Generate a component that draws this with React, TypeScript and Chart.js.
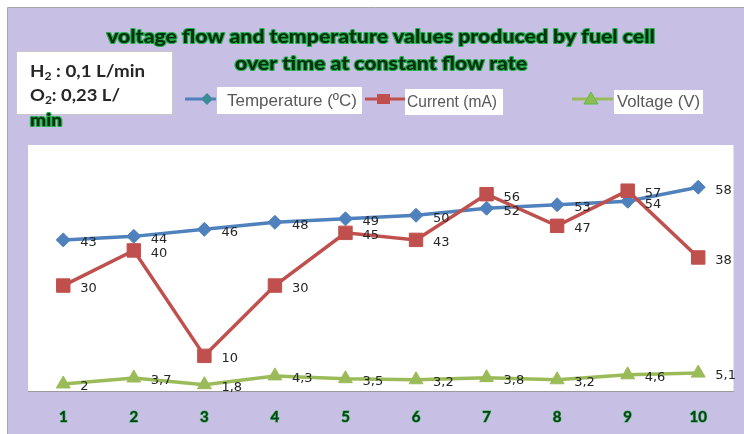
import React, { useEffect, useRef } from "react";
import { Chart, registerables } from "chart.js";

Chart.register(...registerables);

const categories = ["1", "2", "3", "4", "5", "6", "7", "8", "9", "10"];
const temperature = [43, 44, 46, 48, 49, 50, 52, 53, 54, 58];
const current = [30, 40, 10, 30, 45, 43, 56, 47, 57, 38];
const voltage = [2, 3.7, 1.8, 4.3, 3.5, 3.2, 3.8, 3.2, 4.6, 5.1];
const titleLines = [
  "voltage flow and temperature values produced by fuel cell",
  "over time at constant flow rate",
];
const legendLabels = ["Temperature (ºC)", "Current (mA)", "Voltage (V)"];
const boxLines = [
  ["H", "2", " : 0,1 L/min"],
  ["O", "2", ": 0,23 L/"],
];
const boxOverflow = "min";
const yMin = 0;
const yMax = 70;

const BLUE = "#4f81bd";
const RED = "#c0504d";
const GREEN = "#9bbb59";
const PURPLE = "#c7bfe4";

function fitText(
  ctx: CanvasRenderingContext2D,
  text: string,
  x: number,
  y: number,
  font: string,
  color: string,
  width: number,
  align: CanvasTextAlign = "left",
  stroke?: string
) {
  ctx.save();
  ctx.font = font;
  const w = ctx.measureText(text).width;
  const s = width / w;
  ctx.translate(x, y);
  ctx.scale(s, 1);
  ctx.textBaseline = "middle";
  ctx.textAlign = align;
  if (stroke) {
    ctx.strokeStyle = stroke;
    ctx.lineJoin = "round";
    ctx.lineWidth = 2.2;
    ctx.strokeText(text, 0, 0);
  }
  ctx.fillStyle = color;
  ctx.fillText(text, 0, 0);
  ctx.restore();
}

function drawSubLine(
  ctx: CanvasRenderingContext2D,
  parts: string[],
  x: number,
  y: number,
  width: number
) {
  const big = "bold 17px Lato";
  const small = "bold 11px Lato";
  ctx.save();
  ctx.font = big;
  const w0 = ctx.measureText(parts[0]).width;
  const w2 = ctx.measureText(parts[2]).width;
  ctx.font = small;
  const w1 = ctx.measureText(parts[1]).width;
  const s = width / (w0 + w1 + w2);
  ctx.translate(x, y);
  ctx.scale(s, 1);
  ctx.textBaseline = "middle";
  ctx.textAlign = "left";
  ctx.fillStyle = "#262626";
  ctx.font = big;
  ctx.fillText(parts[0], 0, 0);
  ctx.font = small;
  ctx.fillText(parts[1], w0, 4);
  ctx.font = big;
  ctx.fillText(parts[2], w0 + w1, 0);
  ctx.restore();
}

const bgPlugin = {
  id: "bg",
  beforeDraw(chart: any) {
    const ctx = chart.ctx as CanvasRenderingContext2D;
    const { width, height } = chart;
    ctx.save();
    ctx.fillStyle = "#ffffff";
    ctx.fillRect(0, 0, width, height);
    ctx.fillStyle = PURPLE;
    ctx.fillRect(8, 8, width - 8, height - 8);
    ctx.strokeStyle = "#a6a6a6";
    ctx.lineWidth = 1;
    ctx.beginPath();
    ctx.moveTo(7.5, height);
    ctx.lineTo(7.5, 7.5);
    ctx.lineTo(width, 7.5);
    ctx.stroke();
    const a = chart.chartArea;
    ctx.fillStyle = "#ffffff";
    ctx.fillRect(a.left, a.top, a.right - a.left, a.bottom - a.top);
    ctx.restore();
  },
};

const labelPlugin = {
  id: "valueLabels",
  afterDatasetsDraw(chart: any) {
    const ctx = chart.ctx as CanvasRenderingContext2D;
    ctx.save();
    ctx.font = "13px 'DejaVu Sans'";
    ctx.fillStyle = "#262626";
    ctx.textBaseline = "middle";
    ctx.textAlign = "left";
    chart.data.datasets.forEach((ds: any, i: number) => {
      const meta = chart.getDatasetMeta(i);
      meta.data.forEach((pt: any, j: number) => {
        const txt = String(ds.data[j]).replace(".", ",");
        ctx.fillText(txt, pt.x + 17, pt.y + 3);
      });
    });
    ctx.restore();
  },
};

const decorPlugin = {
  id: "decor",
  afterDraw(chart: any) {
    const ctx = chart.ctx as CanvasRenderingContext2D;
    // Title
    fitText(ctx, titleLines[0], 381, 37, "900 19px Lato", "#0a2e12", 548, "center", "#22b04a");
    fitText(ctx, titleLines[1], 381, 64, "900 19px Lato", "#0a2e12", 292, "center", "#22b04a");

    // Text box
    ctx.save();
    ctx.fillStyle = "#ffffff";
    ctx.fillRect(17, 52, 155, 62);
    ctx.strokeStyle = "#c8c8c8";
    ctx.lineWidth = 1;
    ctx.strokeRect(16.5, 51.5, 156, 63);
    ctx.restore();
    drawSubLine(ctx, boxLines[0], 30, 72, 115);
    drawSubLine(ctx, boxLines[1], 30, 96, 90);
    fitText(ctx, boxOverflow, 30, 121, "900 17px Lato", "#0a2e12", 32, "left", "#22b04a");

    // Legend boxes
    ctx.save();
    ctx.fillStyle = "#ffffff";
    ctx.fillRect(217, 87, 145, 27);
    ctx.fillRect(405, 89, 98, 26);
    ctx.fillRect(614, 90, 89, 24);
    ctx.restore();
    const lf = "17px 'Liberation Sans'";
    fitText(ctx, legendLabels[0], 227, 101, lf, "#595959", 130);
    fitText(ctx, legendLabels[1], 407, 102, lf, "#595959", 90);
    fitText(ctx, legendLabels[2], 617, 102, lf, "#595959", 83);

    // Legend markers
    ctx.save();
    ctx.lineWidth = 3;
    ctx.strokeStyle = BLUE;
    ctx.beginPath();
    ctx.moveTo(185, 99);
    ctx.lineTo(216, 99);
    ctx.stroke();
    ctx.fillStyle = "#3b8c98";
    ctx.beginPath();
    ctx.moveTo(207, 93);
    ctx.lineTo(213, 99);
    ctx.lineTo(207, 105);
    ctx.lineTo(201, 99);
    ctx.closePath();
    ctx.fill();

    ctx.strokeStyle = RED;
    ctx.beginPath();
    ctx.moveTo(365, 99);
    ctx.lineTo(405, 99);
    ctx.stroke();
    ctx.fillStyle = RED;
    ctx.fillRect(377, 94, 13, 10);

    ctx.strokeStyle = GREEN;
    ctx.beginPath();
    ctx.moveTo(572, 99);
    ctx.lineTo(613, 99);
    ctx.stroke();
    ctx.fillStyle = "#8fbb50";
    ctx.strokeStyle = "#4fc04a";
    ctx.lineWidth = 1;
    ctx.beginPath();
    ctx.moveTo(591, 92);
    ctx.lineTo(598, 104);
    ctx.lineTo(584, 104);
    ctx.closePath();
    ctx.fill();
    ctx.stroke();
    ctx.restore();
  },
};

export default function App() {
  const ref = useRef<HTMLCanvasElement | null>(null);

  useEffect(() => {
    if (!ref.current) return;
    const chart = new Chart(ref.current, {
      type: "line",
      data: {
        labels: categories,
        datasets: [
          {
            label: legendLabels[0],
            data: temperature,
            borderColor: BLUE,
            backgroundColor: BLUE,
            borderWidth: 3.5,
            pointStyle: "rectRot",
            pointRadius: 7,
            pointBorderWidth: 1,
            pointBorderColor: BLUE,
            tension: 0,
            order: 2,
          },
          {
            label: legendLabels[1],
            data: current,
            borderColor: RED,
            backgroundColor: RED,
            borderWidth: 3.5,
            pointStyle: "rect",
            pointRadius: 9.5,
            pointBorderWidth: 1,
            pointBorderColor: RED,
            tension: 0,
            order: 1,
          },
          {
            label: legendLabels[2],
            data: voltage,
            borderColor: GREEN,
            backgroundColor: GREEN,
            borderWidth: 3.5,
            pointStyle: "triangle",
            pointRadius: 8,
            pointBorderWidth: 1,
            pointBorderColor: GREEN,
            tension: 0,
            order: 3,
          },
        ],
      },
      options: {
        responsive: false,
        animation: false,
        devicePixelRatio: 1,
        layout: { padding: { left: 28, top: 145, right: 9, bottom: 8 } },
        plugins: {
          legend: { display: false },
          title: { display: false },
          tooltip: { enabled: false },
        },
        scales: {
          x: {
            offset: true,
            grid: { display: false, drawTicks: false },
            border: { display: true, color: "#9a9a9a", width: 1 },
            ticks: {
              padding: 17,
              color: "#0a3d18",
              font: { family: "Lato", weight: "bold", size: 15 },
              textStrokeColor: "#34b556",
              textStrokeWidth: 1.2,
            } as any,
            afterFit(scale: any) {
              scale.height = 35;
            },
          },
          y: { display: false, min: yMin, max: yMax },
        },
      },
      plugins: [bgPlugin, labelPlugin, decorPlugin],
    });
    return () => chart.destroy();
  }, []);

  return (
    <div style={{ position: "fixed", left: 0, top: 0, width: 744, height: 434 }}>
      <canvas ref={ref} width={744} height={434} style={{ width: 744, height: 434, display: "block" }} />
    </div>
  );
}
